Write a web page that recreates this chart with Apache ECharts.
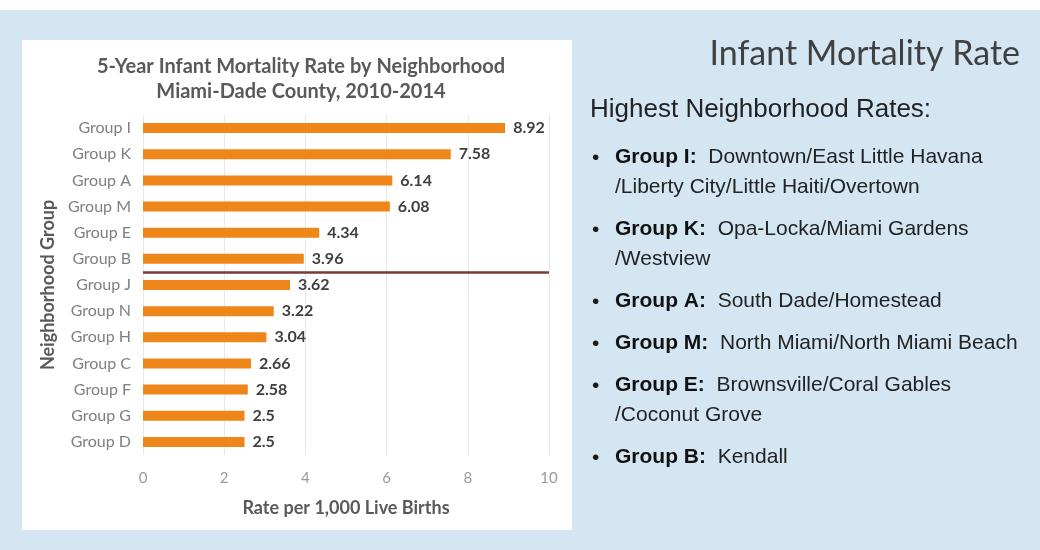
<!DOCTYPE html>
<html>
<head>
<meta charset="utf-8">
<script src="https://cdn.jsdelivr.net/npm/echarts@6/dist/echarts.min.js"></script>
<style>
    html, body { margin: 0; padding: 0; background: #fff; }
    #chart { width: 1040px; height: 550px; }
</style>
</head>
<body>
<div id="chart"></div>
<script>
// groups top to bottom, as in the picture
const groups = ['Group I', 'Group K', 'Group A', 'Group M', 'Group E', 'Group B',
    'Group J', 'Group N', 'Group H', 'Group C', 'Group F', 'Group G', 'Group D']
const rates = [8.92, 7.58, 6.14, 6.08, 4.34, 3.96, 3.62, 3.22, 3.04, 2.66, 2.58, 2.5, 2.5]
const xTicks = [0, 2, 4, 6, 8, 10]
// number of groups above the separator line
const cutAfter = 6

const highlights = [
    ['Group I', 'Downtown/East Little Havana', '/Liberty City/Little Haiti/Overtown'],
    ['Group K', 'Opa-Locka/Miami Gardens', '/Westview'],
    ['Group A', 'South Dade/Homestead'],
    ['Group M', 'North Miami/North Miami Beach'],
    ['Group E', 'Brownsville/Coral Gables', '/Coconut Grove'],
    ['Group B', 'Kendall'],
]

const chartDom = document.getElementById('chart')
const myChart = echarts.init(chartDom)

// right hand text block
const sideFont = '21px "Liberation Sans"'
let sideText = []
let y = 160
const lineH = 30
const gapH = 42
highlights.forEach((it) => {
    sideText.push({
        type: 'text', left: 592, top: y - 12,
        style: { text: '•', font: sideFont, fill: '#1a1a1a' },
    })
    sideText.push({
        type: 'text', left: 615, top: y - 13,
        style: {
            text: '{b|' + it[0] + ':}  ' + it[1],
            font: sideFont, fill: '#222',
            rich: { b: { font: 'bold 21px "Liberation Sans"', fill: '#111' } },
        },
    })
    if (it[2]) {
        y += lineH
        sideText.push({
            type: 'text', left: 615, top: y - 13,
            style: { text: it[2], font: sideFont, fill: '#222' },
        })
    }
    y += gapH
})

const option = {
    backgroundColor: '#d5e6f3',
    animation: false,
    title: {
        text: '5-Year Infant Mortality Rate by Neighborhood\nMiami-Dade County, 2010-2014',
        left: 296, top: 49, textAlign: 'center',
        textStyle: { fontFamily: 'Lato', fontWeight: 'bold', fontSize: 20, color: '#595959', lineHeight: 25 },
    },
    graphic: [
        { type: 'rect', z: -10, shape: { x: 0, y: 0, width: 1040, height: 10 }, style: { fill: '#fff' } },
        { type: 'rect', z: -10, shape: { x: 22, y: 40, width: 550, height: 490 }, style: { fill: '#fff' } },
        {
            type: 'text', right: 20, top: 37,
            style: { text: 'Infant Mortality Rate', font: '34px Lato', fill: '#404040' },
        },
        {
            type: 'text', left: 590, top: 97,
            style: { text: 'Highest Neighborhood Rates:', font: '26px "Liberation Sans"', fill: '#222' },
        },
        ...sideText,
    ],
    grid: { left: 143, right: 491, top: 115, bottom: 95 },
    xAxis: {
        type: 'value', min: 0, max: 10, interval: 2,
        name: 'Rate per 1,000 Live Births', nameLocation: 'middle', nameGap: 44,
        nameTextStyle: { fontFamily: 'Lato', fontWeight: 'bold', fontSize: 18, color: '#595959' },
        axisLine: { show: false }, axisTick: { show: false },
        axisLabel: {
            fontFamily: 'Lato', fontSize: 15, color: '#9a9a9a', margin: 16,
            formatter: (v) => (xTicks.includes(v) ? String(v) : ''),
        },
        splitLine: { lineStyle: { color: '#e8e8e8', width: 1 } },
    },
    yAxis: [
        {
            type: 'category', data: groups, inverse: true,
            name: 'Neighborhood Group', nameLocation: 'middle', nameGap: 86, nameRotate: 90,
            nameTextStyle: { fontFamily: 'Lato', fontWeight: 'bold', fontSize: 18, color: '#595959' },
            axisLine: { show: false }, axisTick: { show: false },
            axisLabel: { fontFamily: 'Lato', fontSize: 16, color: '#7f7f7f', margin: 12 },
        },
        {
            // hidden helper axis for the separator line
            type: 'value', min: 0, max: groups.length, inverse: true, show: false,
        },
    ],
    series: [
        {
            type: 'bar', data: rates, barWidth: 10,
            itemStyle: { color: '#ee8619' },
            label: {
                show: true, position: 'right', distance: 8,
                fontFamily: 'Lato', fontWeight: 'bold', fontSize: 16, color: '#404040',
            },
        },
        {
            type: 'line', yAxisIndex: 1, data: [], silent: true,
            markLine: {
                symbol: 'none', silent: true, label: { show: false },
                lineStyle: { color: '#7a3b32', width: 2.5, type: 'solid' },
                data: [{ yAxis: cutAfter }],
            },
        },
    ],
}

option && myChart.setOption(option)
window.addEventListener('resize', myChart.resize)
</script>
</body>
</html>
